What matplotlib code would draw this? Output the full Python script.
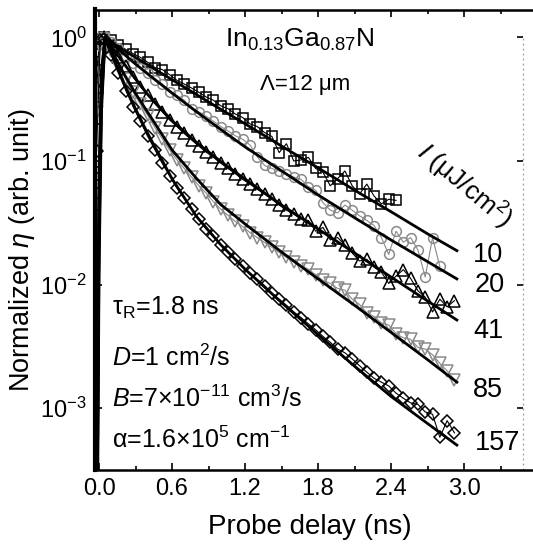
import matplotlib
matplotlib.use('Agg')
import matplotlib.pyplot as plt
from matplotlib.ticker import MultipleLocator, NullFormatter, FormatStrFormatter
from matplotlib.markers import TICKLEFT
import numpy as np

# probe delay of the measured points (ns)
delay = [-0.02, 0.01, 0.04, 0.10, 0.16, 0.22, 0.28, 0.34, 0.40, 0.46, 0.52,
         0.58, 0.64, 0.70, 0.76, 0.82, 0.88, 0.94, 1.00, 1.06, 1.12, 1.18,
         1.24, 1.30, 1.36, 1.42, 1.48, 1.54, 1.60, 1.66, 1.72, 1.78, 1.84,
         1.90, 1.96, 2.02, 2.08, 2.14, 2.20, 2.26, 2.32, 2.38, 2.44, 2.50,
         2.56, 2.62, 2.68, 2.74, 2.80, 2.86, 2.92]

# measured normalized efficiency, one list per excitation (uJ/cm2)
eta_10 = [0.55, 0.97, 1.0,
          0.955, 0.87, 0.80, 0.74, 0.69, 0.63, 0.57, 0.55, 0.50, 0.45,
          0.42, 0.39, 0.36, 0.33, 0.31, 0.28, 0.265, 0.24, 0.225, 0.20,
          0.19, 0.170, 0.158, 0.117, 0.138, 0.100, 0.102, 0.107, 0.087, 0.081,
          0.063, 0.072, 0.083, 0.063, 0.054, 0.065, 0.052, 0.045, 0.049, 0.048]
eta_20 = [0.30, 0.92, 1.02,
          0.92, 0.82, 0.71, 0.62, 0.57, 0.52, 0.45, 0.42, 0.36, 0.34,
          0.31, 0.265, 0.25, 0.23, 0.21, 0.19, 0.175, 0.16, 0.15, 0.135,
          0.108, 0.092, 0.087, 0.083, 0.078, 0.074, 0.071, 0.062, 0.058, 0.046,
          0.040, 0.038, 0.044, 0.040, 0.036, 0.033, 0.030, 0.024, 0.0175, 0.027,
          0.022, 0.024, 0.019, 0.0115, 0.024, 0.014]
eta_41 = [0.40, 0.90, 1.0,
          0.86, 0.70, 0.59, 0.48, 0.40, 0.34, 0.29, 0.25, 0.215, 0.19,
          0.167, 0.148, 0.132, 0.118, 0.107, 0.096, 0.087, 0.079, 0.071, 0.065,
          0.059, 0.054, 0.049, 0.044, 0.040, 0.037, 0.034, 0.033, 0.027, 0.029,
          0.023, 0.024, 0.021, 0.018, 0.0155, 0.016, 0.0138, 0.0126, 0.0102, 0.0117,
          0.0132, 0.0112, 0.0089, 0.0079, 0.0060, 0.0076, 0.0066, 0.0074]
eta_85 = [0.25, 0.85, 0.98,
          0.776, 0.589, 0.457, 0.363, 0.288, 0.234, 0.186, 0.151, 0.123, 0.102,
          0.0871, 0.0741, 0.0631, 0.055, 0.0468, 0.0407, 0.0363, 0.0324, 0.0295, 0.0263,
          0.0240, 0.0219, 0.0200, 0.0182, 0.0166, 0.0151, 0.0141, 0.0133, 0.0120, 0.0108,
          0.0102, 0.0093, 0.0090, 0.0076, 0.0069, 0.0059, 0.0055, 0.0049, 0.0047, 0.0040,
          0.0037, 0.0036, 0.0031, 0.0030, 0.0027, 0.0023, 0.0020, 0.0017]
eta_157 = [0.12, 0.95, 0.97,
           0.724, 0.513, 0.372, 0.275, 0.209, 0.158, 0.123, 0.0955, 0.0759, 0.0603,
           0.0501, 0.0407, 0.0339, 0.0282, 0.0245, 0.0209, 0.0182, 0.0162, 0.0141, 0.0123,
           0.0110, 0.0098, 0.0085, 0.0076, 0.0068, 0.0060, 0.0054, 0.0048, 0.0043, 0.0038,
           0.0034, 0.0030, 0.0028, 0.0025, 0.0022, 0.00195, 0.00174, 0.00162, 0.00151, 0.00132,
           0.00120, 0.00110, 0.00107, 0.00093, 0.00089, 0.00058, 0.00079, 0.00063]

# model curves
fit_delay = [-0.03, -0.01, 0.0, 0.02, 0.05, 0.1, 0.2, 0.3, 0.4, 0.6, 0.8,
             1.0, 1.2, 1.5, 1.8, 2.1, 2.4, 2.7, 2.94]
fit_10 = [1e-4, 4e-3, 0.08, 0.55, 1.0, 0.92, 0.79, 0.69, 0.60, 0.455, 0.345,
          0.262, 0.200, 0.132, 0.088, 0.058, 0.0388, 0.0257, 0.0188]
fit_20 = [1e-4, 2e-3, 0.05, 0.45, 1.0, 0.902, 0.741, 0.610, 0.507, 0.355, 0.251,
          0.180, 0.130, 0.0832, 0.0531, 0.0347, 0.0229, 0.0153, 0.0111]
fit_41 = [1e-4, 1e-3, 0.03, 0.38, 1.0, 0.847, 0.623, 0.461, 0.346, 0.212, 0.1415,
          0.0991, 0.0713, 0.0440, 0.0281, 0.0180, 0.01148, 0.00735, 0.00516]
fit_85 = [1e-4, 6e-4, 0.02, 0.30, 1.0, 0.795, 0.518, 0.352, 0.248, 0.1228, 0.0724,
          0.0444, 0.0309, 0.0183, 0.0111, 0.00678, 0.00409, 0.00246, 0.00162]
fit_157 = [1e-4, 3e-4, 0.012, 0.25, 1.0, 0.750, 0.437, 0.264, 0.167, 0.0718, 0.0356,
           0.0210, 0.0133, 0.00713, 0.00393, 0.00218, 0.00124, 0.000748, 0.000501]

intensity_labels = ['10', '20', '41', '85', '157']

plt.rcParams['font.family'] = ['Liberation Sans', 'DejaVu Sans']
plt.rcParams['mathtext.fontset'] = 'custom'
plt.rcParams['mathtext.rm'] = 'Liberation Sans'
plt.rcParams['mathtext.it'] = 'Liberation Sans:italic'
plt.rcParams['mathtext.bf'] = 'Liberation Sans:bold'

W, H = 533, 546
fig = plt.figure(figsize=(W / 100, H / 100), dpi=100)
ax = fig.add_axes([95 / W, 76 / H, 441 / W, 460.5 / H])

gray = '#8a8a8a'
data_sets = [
    (eta_10, 's', 'black', 7),
    (eta_20, 'o', gray, 7),
    (eta_41, '^', 'black', 8),
    (eta_85, 'v', gray, 8),
    (eta_157, 'D', 'black', 6.3),
]
for vals, mk, col, ms in data_sets:
    ax.plot(delay[:len(vals)], vals, marker=mk, ms=ms, mfc='none', mec=col,
            mew=1.1, color=col, lw=0.8, zorder=2)

for fit in [fit_10, fit_20, fit_41, fit_85, fit_157]:
    ax.plot(fit_delay, fit, color='black', lw=2.0, zorder=3)

ax.set_yscale('log')
ax.set_xlim(-0.033, 3.59)
ax.set_ylim(3.15e-4, 1.685)

ax.xaxis.set_major_locator(MultipleLocator(0.6))
ax.xaxis.set_minor_locator(MultipleLocator(0.3))
ax.xaxis.set_major_formatter(FormatStrFormatter('%.1f'))
ax.yaxis.set_minor_formatter(NullFormatter())
ax.tick_params(which='both', direction='in', top=True, right=False, width=1.2)
ax.tick_params(which='major', length=5, labelsize=17, pad=6)
ax.tick_params(which='minor', length=3)
for sp in ax.spines.values():
    sp.set_linewidth(1.8)
ax.spines['left'].set_linewidth(3)

# dotted guide on the right with decade ticks
y0, y1 = np.log10(ax.get_ylim())
ax.axvline(3.48, ymin=0, ymax=(0 - y0) / (y1 - y0), color='#999999', ls=(0, (1.5, 2.5)), lw=0.9)
ax.plot([3.48] * 4, [1, 1e-1, 1e-2, 1e-3], ls='none', marker=TICKLEFT, ms=4,
        mew=1.2, color='black', clip_on=False)

# texts
fig.text(300 / W, 1 - 47 / H, 'In$_{0.13}$Ga$_{0.87}$N', fontsize=19, ha='center', va='baseline')
fig.text(305 / W, 1 - 90 / H, '\u039b=12 \u03bcm', fontsize=16, ha='center', va='baseline')

fig.text(112 / W, 1 - 315 / H, '\u03c4$_{\\mathrm{R}}$=1.8 ns', fontsize=18, va='baseline')
fig.text(112 / W, 1 - 366 / H, '$\\it{D}$=1 cm$^{2}$/s', fontsize=18, va='baseline')
fig.text(112 / W, 1 - 407 / H, '$\\it{B}$=7\u00d710$^{-11}$ cm$^{3}$/s', fontsize=18, va='baseline')
fig.text(112 / W, 1 - 448 / H, '\u03b1=1.6\u00d710$^{5}$ cm$^{-1}$', fontsize=18, va='baseline')

label_pos = [(473, 262), (475, 292), (473, 338), (473, 397), (475, 450)]
for lab, (px, py) in zip(intensity_labels, label_pos):
    fig.text(px / W, 1 - py / H, lab, fontsize=19.5, va='baseline')

fig.text(464 / W, 1 - 186 / H, '$I$ (\u03bcJ/cm$^{2}$)', fontsize=19, rotation=-40,
         ha='center', va='center', rotation_mode='anchor')

fig.text(22 / W, 1 - 250 / H, 'Normalized $\\eta$ (arb. unit)', fontsize=19.5,
         rotation=90, ha='center', va='center')
fig.text(310 / W, 1 - 527 / H, 'Probe delay (ns)', fontsize=20, ha='center', va='center')

fig.savefig('out.png', dpi=100)
